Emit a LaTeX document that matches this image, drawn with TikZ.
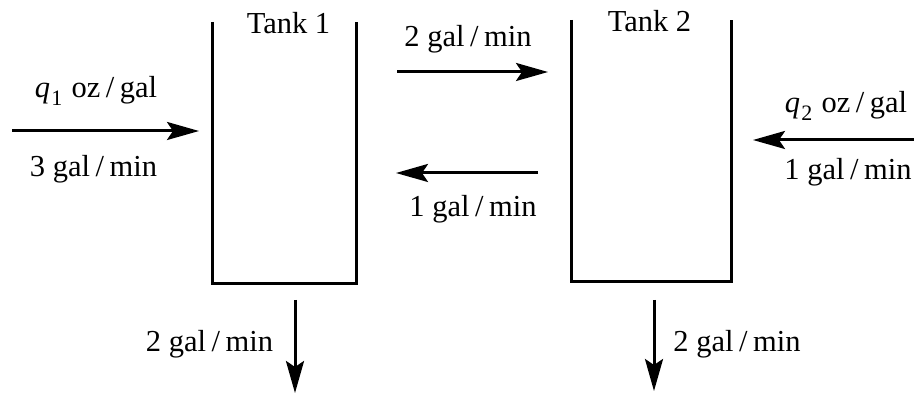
\documentclass[tikz,border=0pt]{standalone}
\usepackage{fontspec}
\setmainfont{Liberation Serif}
\usetikzlibrary{arrows.meta}
\tikzset{
  wall/.style={line width=3pt, line join=miter},
  flow/.style={line width=3pt, -{Stealth[length=32pt,width=18pt,inset=6pt]}},
  lbl/.style={inner sep=0pt, anchor=base, font=\fontsize{30.5}{32}\selectfont},
}
\newcommand{\slashsep}{\hspace{0.18em}/\hspace{0.18em}}
\newcommand{\rate}[1]{#1 gal\slashsep min}
\newcommand{\conc}[1]{{\itshape q}\hspace{0.04em}\raisebox{-8pt}{\fontsize{22}{22}\selectfont #1}\hspace{0.3em}oz\slashsep gal}
\begin{document}
\begin{tikzpicture}[x=1pt,y=1pt]
  \useasboundingbox (0,0) rectangle (914,395);
  % tanks
  \draw[wall] (212,373) -- (212,111) -- (356,111) -- (356,373);
  \draw[wall] (571,375) -- (571,113) -- (731,113) -- (731,375);
  % connector end points
  \coordinate (in1s) at (12,264);
  \coordinate (in1e) at (199,264);
  \coordinate (t12s) at (397,323);
  \coordinate (t12e) at (548,323);
  \coordinate (t21s) at (538,222);
  \coordinate (t21e) at (396,222);
  \coordinate (in2s) at (914,255);
  \coordinate (in2e) at (753,255);
  \coordinate (out1s) at (295,95);
  \coordinate (out1e) at (295,2);
  \coordinate (out2s) at (654,95);
  \coordinate (out2e) at (654,4);
  % flows
  \draw[flow] (in1s) -- (in1e);
  \draw[flow] (t12s) -- (t12e);
  \draw[flow] (t21s) -- (t21e);
  \draw[flow] (in2s) -- (in2e);
  \draw[flow] (out1s) -- (out1e);
  \draw[flow] (out2s) -- (out2e);
  % labels
  \node[lbl] (tank1) at (288.5,361) {Tank 1};
  \node[lbl] (tank2) at (649.5,363) {Tank 2};
  \node[lbl] (c1) at (96,297) {\conc{1}};
  \node[lbl] (f1) at (93.5,218) {\rate{3}};
  \node[lbl] (f12) at (468,348) {\rate{2}};
  \node[lbl] (f21) at (473,178) {\rate{1}};
  \node[lbl] (c2) at (846,282) {\conc{2}};
  \node[lbl] (f2) at (848,215) {\rate{1}};
  \node[lbl] (o1) at (209.5,43) {\rate{2}};
  \node[lbl] (o2) at (737,43) {\rate{2}};
\end{tikzpicture}
\end{document}
